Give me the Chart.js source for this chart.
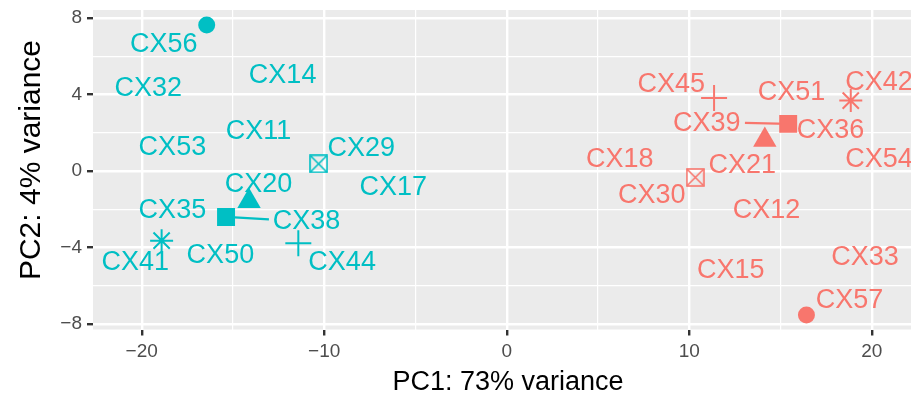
<!DOCTYPE html>
<html>
<head>
<meta charset="utf-8">
<script src="https://cdn.jsdelivr.net/npm/chart.js@4.4.1/dist/chart.umd.min.js"></script>
<style>
  html, body { margin: 0; background: #fff; }
  #wrap { width: 911px; height: 400px; }
</style>
</head>
<body>
<div id="wrap"><canvas id="pca"></canvas></div>
<script>
// sample labels (placed where the repelled text sits)
const tealNames = ['CX56', 'CX32', 'CX14', 'CX53', 'CX11', 'CX29', 'CX17', 'CX20', 'CX35', 'CX38', 'CX41', 'CX50', 'CX44'];
const tealLabelX = [-18.79, -19.64, -12.28, -18.32, -13.60, -7.97, -6.22, -13.60, -18.32, -10.97, -20.35, -15.69, -9.02];
const tealLabelY = [6.76, 4.43, 5.14, 1.37, 2.16, 1.27, -0.77, -0.57, -1.93, -2.55, -4.65, -4.28, -4.65];

const redNames = ['CX45', 'CX51', 'CX42', 'CX39', 'CX36', 'CX18', 'CX21', 'CX54', 'CX30', 'CX12', 'CX33', 'CX15', 'CX57'];
const redLabelX = [9.01, 15.60, 20.40, 10.96, 17.74, 6.19, 12.91, 20.40, 7.94, 14.23, 19.63, 12.28, 18.78];
const redLabelY = [4.67, 4.25, 4.77, 2.58, 2.26, 0.74, 0.43, 0.74, -1.14, -1.93, -4.39, -5.07, -6.66];

// visible points, one per shape
const shapes = ['circle', 'squareCross', 'triangle', 'rect', 'cross', 'star'];
const tealPointX = [-16.44, -10.31, -14.12, -15.38, -11.42, -18.91];
const tealPointY = [7.65, 0.38, -1.58, -2.40, -3.77, -3.64];
const redPointX = [16.42, 10.33, 14.14, 15.42, 11.36, 18.85];
const redPointY = [-7.53, -0.33, 1.63, 2.47, 3.82, 3.69];

// label connector segments
const tealSegX = [-15.38, -13.03];
const tealSegY = [-2.40, -2.53];
const redSegX = [13.05, 15.42];
const redSegY = [2.52, 2.47];

// axis ticks
const xMajor = [-20, -10, 0, 10, 20];
const xMinor = [-15, -5, 5, 15];
const yMajor = [-8, -4, 0, 4, 8];
const yMinor = [-6, -2, 2, 6];

const xTitle = 'PC1: 73% variance';
const yTitle = 'PC2: 4% variance';

const TEAL = '#00BFC4';
const RED = '#F8766D';
const FONT = '"Liberation Sans", Arial, sans-serif';

const groups = [
  { color: TEAL, names: tealNames, lx: tealLabelX, ly: tealLabelY, px: tealPointX, py: tealPointY, sx: tealSegX, sy: tealSegY },
  { color: RED, names: redNames, lx: redLabelX, ly: redLabelY, px: redPointX, py: redPointY, sx: redSegX, sy: redSegY }
];

const radius = { circle: 8.5, squareCross: 9, triangle: 13.5, rect: 12.7, cross: 13, star: 11.5 };

function squareCross(color) {
  const c = document.createElement('canvas');
  c.width = 19; c.height = 19;
  const g = c.getContext('2d');
  g.strokeStyle = color;
  g.lineWidth = 1.6;
  g.strokeRect(1, 1, 17, 17);
  g.beginPath();
  g.moveTo(1, 1); g.lineTo(18, 18);
  g.moveTo(18, 1); g.lineTo(1, 18);
  g.stroke();
  return c;
}

const datasets = [];
for (const grp of groups) {
  shapes.forEach((shape, i) => {
    const open = shape === 'cross' || shape === 'star' || shape === 'squareCross';
    datasets.push({
      data: [{ x: grp.px[i], y: grp.py[i] }],
      pointStyle: shape === 'squareCross' ? squareCross(grp.color) : shape,
      pointRadius: radius[shape],
      backgroundColor: open ? 'transparent' : grp.color,
      borderColor: grp.color,
      borderWidth: open ? 2 : 0,
      order: 1
    });
  });
  datasets.push({
    data: grp.sx.map((v, i) => ({ x: v, y: grp.sy[i] })),
    showLine: true,
    pointRadius: 0,
    borderColor: grp.color,
    borderWidth: 2.2,
    order: 2
  });
}

const isMajor = (list, v) => list.includes(v);
const fmt = v => v < 0 ? '\u2212' + Math.abs(v) : String(v);

const panel = {
  id: 'panel',
  beforeDraw(chart) {
    const { ctx, chartArea: a } = chart;
    ctx.save();
    ctx.fillStyle = '#EBEBEB';
    ctx.fillRect(a.left, a.top, a.right - a.left, a.bottom - a.top);
    ctx.restore();
  },
  afterDatasetsDraw(chart) {
    const { ctx, scales: { x, y } } = chart;
    ctx.save();
    ctx.font = '27px ' + FONT;
    ctx.textAlign = 'center';
    ctx.textBaseline = 'alphabetic';
    const capHalf = 27 * 0.716 / 2;
    for (const grp of groups) {
      ctx.fillStyle = grp.color;
      grp.names.forEach((n, i) => {
        ctx.fillText(n, x.getPixelForValue(grp.lx[i]), y.getPixelForValue(grp.ly[i]) + capHalf);
      });
    }
    // axis titles (the original panel runs past the right edge, so centre by hand)
    ctx.textBaseline = 'middle';
    ctx.fillStyle = '#000';
    ctx.fillText(xTitle, 508, 383);
    ctx.font = '30px ' + FONT;
    ctx.translate(32, 160);
    ctx.rotate(-Math.PI / 2);
    ctx.fillText(yTitle, 0, 0);
    ctx.restore();
  }
};

function gridOpts(major) {
  return {
    color: '#FFFFFF',
    lineWidth: c => c.tick && isMajor(major, c.tick.value) ? 2.4 : 1.2,
    tickColor: c => c.tick && isMajor(major, c.tick.value) ? '#333333' : 'rgba(0,0,0,0)',
    tickWidth: 2.4,
    tickLength: 6
  };
}

new Chart(document.getElementById('pca'), {
  type: 'scatter',
  data: { datasets },
  options: {
    responsive: true,
    maintainAspectRatio: false,
    animation: false,
    devicePixelRatio: 1,
    layout: { autoPadding: false, padding: { top: 10, right: 0, bottom: 0, left: 0 } },
    plugins: { legend: { display: false }, tooltip: { enabled: false } },
    scales: {
      x: {
        type: 'linear',
        min: -22.67,
        max: 22.15,
        afterBuildTicks: s => { s.ticks = [...xMajor, ...xMinor].sort((a, b) => a - b).map(v => ({ value: v })); },
        afterFit: s => { s.height = 70.5; s.paddingLeft = 0; s.paddingRight = 0; },
        border: { display: false },
        grid: gridOpts(xMajor),
        ticks: {
          autoSkip: false, maxRotation: 0, padding: 5,
          color: '#4D4D4D', font: { family: FONT, size: 19 },
          callback: v => isMajor(xMajor, v) ? fmt(v) : ''
        }
      },
      y: {
        type: 'linear',
        min: -8.29,
        max: 8.43,
        afterBuildTicks: s => { s.ticks = [...yMajor, ...yMinor].sort((a, b) => a - b).map(v => ({ value: v })); },
        afterFit: s => { s.width = 93; s.paddingTop = 0; s.paddingBottom = 0; },
        border: { display: false },
        grid: gridOpts(yMajor),
        ticks: {
          autoSkip: false, padding: 5,
          color: '#4D4D4D', font: { family: FONT, size: 19 },
          callback: v => isMajor(yMajor, v) ? fmt(v) : ''
        }
      }
    }
  },
  plugins: [panel]
});
</script>
</body>
</html>
